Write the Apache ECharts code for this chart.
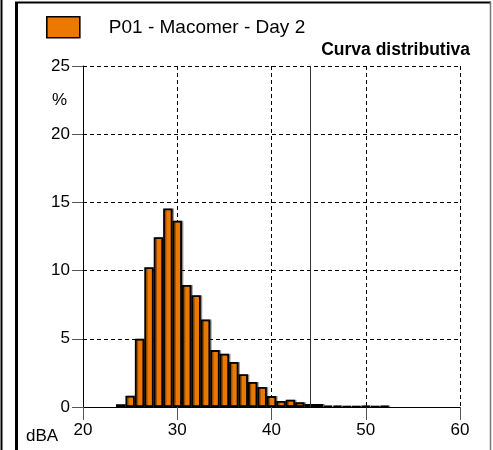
<!DOCTYPE html>
<html><head><meta charset="utf-8">
<script src="https://cdn.jsdelivr.net/npm/echarts@6/dist/echarts.min.js"></script>
<style>html,body{margin:0;padding:0;background:#fff}#c{width:493px;height:450px}</style>
</head><body><div id="c"></div>
<script>
const levels = [24,25,26,27,28,29,30,31,32,33,34,35,36,37,38,39,40,41,42,43,44,45,46,47,48,49,50,51,52];
const percents = [0.2,0.83,5.0,10.25,12.45,14.55,13.65,8.95,8.2,6.42,4.17,3.9,3.3,2.4,1.84,1.47,0.8,0.44,0.54,0.34,0.22,0.22,0.1,0.08,0.06,0.04,0.07,0.04,0.07];
const markerLevel = 44.1;
const seriesName = 'P01 - Macomer - Day 2';
const titleText = 'Curva distributiva';
const xName = 'dBA', yName = '%';

const font = 'Liberation Sans, Arial, sans-serif';
const chart = echarts.init(document.getElementById('c'), null, {renderer:'canvas'});
chart.setOption({
  animation:false,
  backgroundColor:'#fff',
  title:{text:titleText, right:23, top:41, padding:0, textStyle:{fontFamily:font, fontSize:17.5, fontWeight:'bold', color:'#000'}},
  legend:{left:46, top:16, padding:0, itemWidth:33, itemHeight:21, icon:'rect',
    textStyle:{fontFamily:font, fontSize:19, color:'#000', padding:[0,0,0,24]},
    itemStyle:{borderColor:'#000', borderWidth:1.6},
    data:[seriesName]},
  grid:{left:83, right:33, top:66, bottom:43, containLabel:false},
  xAxis:{type:'value', min:20, max:60, interval:10,
    axisLine:{show:true, onZero:false, lineStyle:{color:'#000', width:1}},
    axisTick:{show:true, length:13, lineStyle:{color:'#555', width:1}},
    axisLabel:{fontFamily:font, fontSize:17, color:'#000', margin:15},
    splitLine:{show:true, lineStyle:{color:'#000', type:[4,3], width:1}}},
  yAxis:{type:'value', min:0, max:25, interval:5,
    axisLine:{show:true, lineStyle:{color:'#000', width:1}},
    axisTick:{show:true, length:11, lineStyle:{color:'#555', width:1}},
    axisLabel:{fontFamily:font, fontSize:17, color:'#000', margin:13},
    splitLine:{show:true, lineStyle:{color:'#000', type:[4,3], width:1}}},
  series:[{
    name:seriesName, type:'bar', barWidth:9.4,
    data: levels.map((l,i)=>[l, percents[i]]),
    itemStyle:{color:'#EC7800', borderColor:'#000', borderWidth:1.8,
      shadowColor:'rgba(0,0,0,0.35)', shadowOffsetX:1.5, shadowOffsetY:0, shadowBlur:0},
    markLine:{silent:true, symbol:'none', label:{show:false},
      lineStyle:{color:'#333', type:'solid', width:1},
      data:[{xAxis:markerLevel}]}
  }],
  graphic:[
    {type:'line', shape:{x1:1.5,y1:0,x2:1.5,y2:450}, style:{stroke:'#000', lineWidth:2}},
    {type:'line', shape:{x1:16.5,y1:2,x2:16.5,y2:450}, style:{stroke:'#000', lineWidth:3}},
    {type:'line', shape:{x1:15,y1:2.5,x2:491,y2:2.5}, style:{stroke:'#000', lineWidth:2}},
    {type:'line', shape:{x1:490.5,y1:2,x2:490.5,y2:450}, style:{stroke:'#777', lineWidth:1.5}},
    {type:'text', left:52, top:92, style:{text:yName, font:'17px '+font, fill:'#000'}},
    {type:'text', left:26, top:428, style:{text:xName, font:'17px '+font, fill:'#000'}}
  ]
});
</script></body></html>
